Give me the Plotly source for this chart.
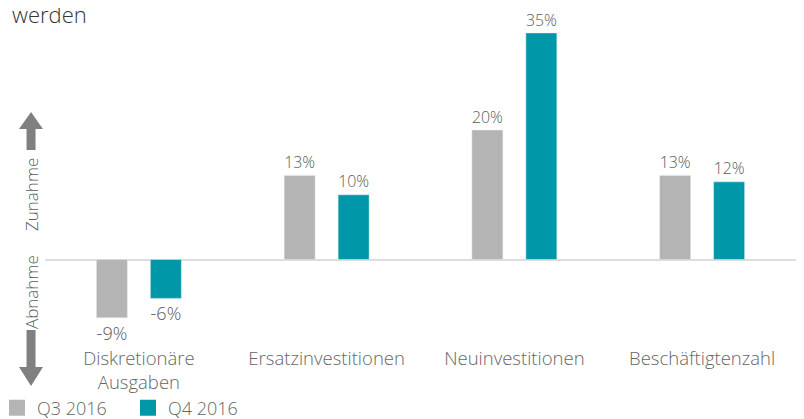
import plotly.graph_objects as go

categories = ["Diskretionäre<br>Ausgaben", "Ersatzinvestitionen", "Neuinvestitionen", "Beschäftigtenzahl"]
q3_2016 = [-9, 13, 20, 13]
q4_2016 = [-6, 10, 35, 12]
series_names = ["Q3 2016", "Q4 2016"]

GRAY = "#b4b4b4"
TEAL = "#0097a8"
TXT = "#5a5a5a"
FONT = "Open Sans"

# page body has an 8px margin, so the figure is drawn 8px in from the corner
OFF = 8
W, H = 804 - OFF, 419 - OFF
L, R, T, B = 37, 8, 12, 74


def px2paper(x, y):
    # screen pixel position -> paper coordinates (for decorations only)
    x, y = x - OFF, y - OFF
    return (x - L) / (W - L - R), (H - B - y) / (H - T - B)


def arrow_path(pts):
    p = [px2paper(x, y) for x, y in pts]
    return "M " + " L ".join(f"{a:.4f},{b:.4f}" for a, b in p) + " Z"


fig = go.Figure()
for name, vals, col in zip(series_names, [q3_2016, q4_2016], [GRAY, TEAL]):
    fig.add_trace(go.Bar(
        x=categories, y=vals, name=name, marker_color=col, showlegend=False,
        text=[f"{v}%" for v in vals], textposition="outside",
        textfont=dict(family=FONT, size=18, color=TXT, weight=300),
        cliponaxis=False,
    ))
# legend-only entries so the swatches can be bigger squares
for name, col in zip(series_names, [GRAY, TEAL]):
    fig.add_trace(go.Scatter(
        x=[None], y=[None], name=name, mode="markers",
        marker=dict(symbol="square", size=16, color=col),
    ))

lx, ly = px2paper(-3, 408)
fig.update_layout(
    width=W, height=H,
    margin=dict(l=L, r=R, t=T, b=B, autoexpand=False),
    plot_bgcolor="white", paper_bgcolor="white",
    barmode="group", bargap=0.425, bargroupgap=0.426,
    font=dict(family=FONT, color=TXT, weight=300),
    showlegend=True,
    legend=dict(orientation="h", x=lx, y=ly, yanchor="middle", xanchor="left",
                bgcolor="rgba(0,0,0,0)",
                font=dict(family=FONT, size=18, color="#666666", weight=300),
                entrywidth=86, traceorder="normal"),
)
fig.update_xaxes(showline=False, showgrid=False, ticks="", ticklabelstandoff=0,
                 tickfont=dict(family=FONT, size=18.5, color="#666666", weight=300))
fig.update_yaxes(range=[-13.2, 37], showticklabels=False, showgrid=False, ticks="",
                 zeroline=True, zerolinecolor="#dddddd", zerolinewidth=2)

# clipped title remnant
wx, wy = px2paper(10, 14)
fig.add_annotation(text="werden", xref="paper", yref="paper", x=wx, y=wy,
                   xanchor="left", yanchor="middle", showarrow=False,
                   font=dict(family=FONT, size=22, color="#333333", weight=300))

# direction labels
for label, cy in [("Zunahme", 195), ("Abnahme", 292)]:
    ax_, ay_ = px2paper(31, cy)
    fig.add_annotation(text=label, xref="paper", yref="paper", x=ax_, y=ay_,
                       xanchor="center", yanchor="middle", textangle=-90, showarrow=False,
                       font=dict(family=FONT, size=17, color=TXT, weight=300))

up = [(31, 112), (43, 129), (35.5, 129), (35.5, 150), (26.5, 150), (26.5, 129), (19, 129)]
down = [(31, 386), (43, 367), (35.5, 367), (35.5, 330), (26.5, 330), (26.5, 367), (19, 367)]
for pts in (up, down):
    fig.add_shape(type="path", xref="paper", yref="paper", path=arrow_path(pts),
                  fillcolor="#808080", line=dict(width=0), layer="above")

fig.write_html("out.html")
